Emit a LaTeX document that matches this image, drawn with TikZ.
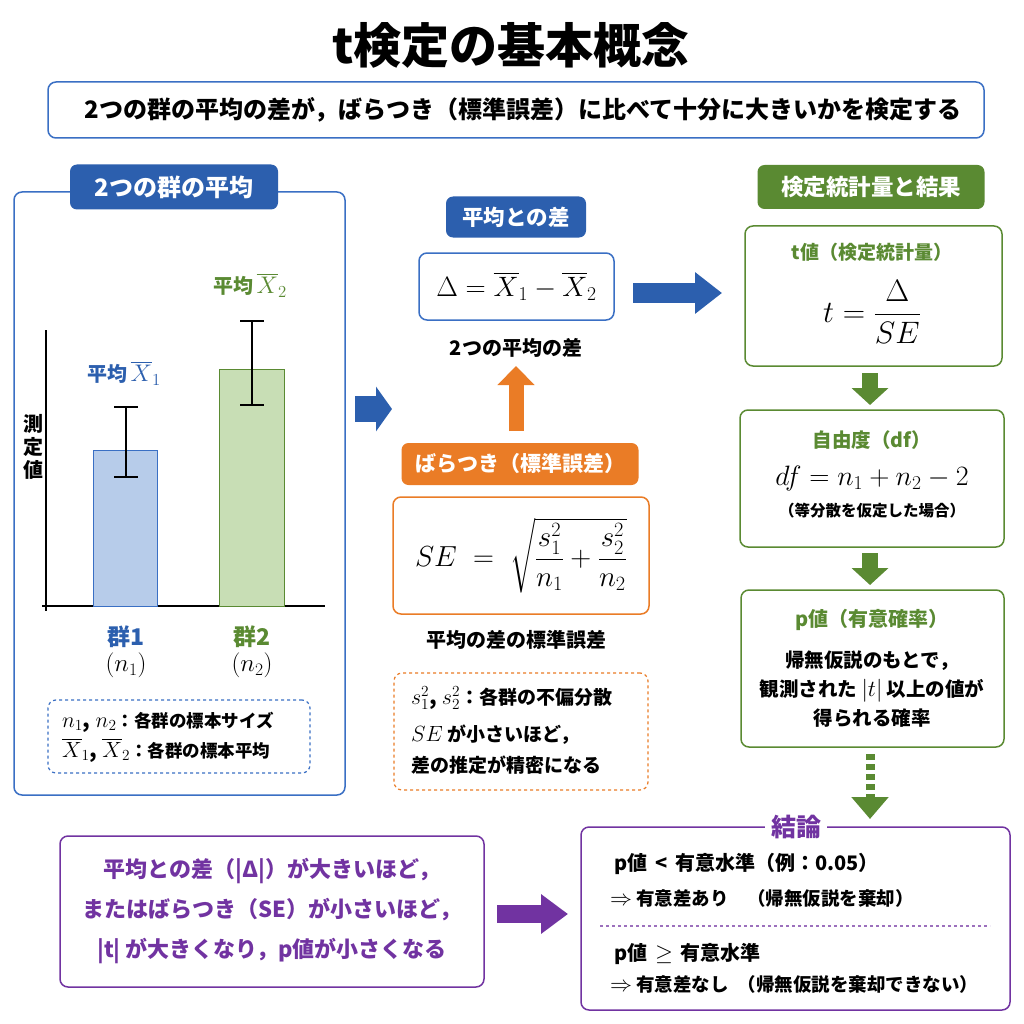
\RequirePackage{fix-cm}
\documentclass[tikz,border=0pt]{standalone}
\usepackage[no-math]{fontspec}
\usepackage{amsmath}
\newfontfamily\jp{Noto Sans CJK JP}
\usetikzlibrary{arrows.meta}
\newcommand\fsz[2]{\fontsize{#1}{#2}\selectfont}
\definecolor{blueM}{HTML}{2C5FAE}
\definecolor{blueB}{HTML}{3A6FC4}
\definecolor{greenM}{HTML}{5A8A32}
\definecolor{orangeM}{HTML}{EA7C26}
\definecolor{purpleM}{HTML}{7133A1}
\definecolor{barB}{HTML}{B7CCEA}
\definecolor{barG}{HTML}{C8DEB5}
\tikzset{
  rbox/.style={draw=#1, line width=1.5pt, rounded corners=8pt, fill=white, inner sep=0pt, anchor=north west},
  tagbox/.style={fill=#1, rounded corners=7pt, text=white, font=\jp\bfseries\fsz{22}{26}, inner sep=0pt},
  blockarrow/.style n args={4}{color=#1, line width=#2, -{Triangle[length=#3,width=#4]}},
  txt/.style={font=\jp\bfseries\fsz{#1}{#1}, inner sep=0pt},
}
\begin{document}
\begin{tikzpicture}[x=1pt,y=-1pt, every node/.style={inner sep=0pt, outer sep=0pt}]
\useasboundingbox[fill=white] (0,0) rectangle (1024,1024);

% title
\node[txt=48] (title) at (511,45) {t検定の基本概念};
\node[rbox=blueB, minimum width=936pt, minimum height=56pt, font=\jp\bfseries\fsz{24}{28}] (sub) at (48,82) {\hspace*{14pt}2つの群の平均の差が，ばらつき（標準誤差）に比べて十分に大きいかを検定する};

% ---------- left panel
\node[rbox=blueB, minimum width=331pt, minimum height=603pt] (lp) at (14,192) {};
\node[tagbox=blueM, minimum width=208pt, minimum height=45pt, font=\jp\bfseries\fsz{24}{26}] (lph) at (174,187) {2つの群の平均};

\node[align=center, font=\jp\bfseries\fsz{20}{23}] (ylab) at (33,447) {測\\定\\値};
\draw[line width=1.6pt] (46,330) -- (46,611);
\draw[line width=1.6pt] (42,606) -- (325,606);

\node[draw=blueB, fill=barB, line width=1pt, anchor=south west, minimum width=64pt, minimum height=156pt] (bar1) at (93,606) {};
\node[draw=greenM, fill=barG, line width=1pt, anchor=south west, minimum width=65pt, minimum height=237pt] (bar2) at (219,606) {};
\draw[line width=1.8pt] (126,407) -- (126,477) (114,407) -- (138,407) (114,477) -- (138,477);
\draw[line width=1.8pt] (252,321) -- (252,405) (240,321) -- (264,321) (240,405) -- (264,405);

\node[txt=20, text=blueM] (m1) at (124,373) {平均\,{\fsz{24}{24}$\overline{X}_1$}};
\node[txt=20, text=greenM] (m2) at (250,285) {平均\,{\fsz{24}{24}$\overline{X}_2$}};
\node[txt=23, text=blueM] (g1) at (126,637) {群1};
\node[font=\fsz{25}{26}] (n1) at (126,665) {$(n_1)$};
\node[txt=23, text=greenM] (g2) at (252,637) {群2};
\node[font=\fsz{25}{26}] (n2) at (252,665) {$(n_2)$};

\node[rbox=blueB, dashed, line width=1.2pt, minimum width=262pt, minimum height=73pt] (ld) at (48,700) {};
\node[txt=17.5, anchor=west] (ld1) at (62,722) {{\fsz{22}{22}$n_1$, $n_2$}：各群の標本サイズ};
\node[txt=17.5, anchor=west] (ld2) at (62,750) {{\fsz{22}{22}$\overline{X}_1$, $\overline{X}_2$}：各群の標本平均};

% ---------- middle
\coordinate (a1s) at (355,409);
\coordinate (a1e) at (392,409);
\draw[blockarrow={blueM}{26pt}{16pt}{44pt}] (a1s) -- (a1e);

\node[tagbox=blueM, minimum width=140pt, minimum height=41pt, font=\jp\bfseries\fsz{21.5}{24}] (dh) at (516,217) {平均との差};
\node[rbox=blueB, minimum width=195pt, minimum height=67pt] (db) at (419,253) {};
\node[font=\fsz{28}{30}] (dm) at (db.center) {$\Delta = \overline{X}_1 - \overline{X}_2$};
\node[txt=20] (dc) at (516,348) {2つの平均の差};

\coordinate (oa1) at (516,431);
\coordinate (oa2) at (516,366);
\draw[blockarrow={orangeM}{15pt}{19pt}{36pt}] (oa1) -- (oa2);

\node[tagbox=orangeM, minimum width=237pt, minimum height=42pt, font=\jp\bfseries\fsz{21}{24}] (sh) at (520,464) {ばらつき（標準誤差）};
\node[rbox=orangeM, minimum width=256pt, minimum height=117pt] (sb) at (393,497) {};
\node[font=\fsz{29}{30}] (sm) at (sb.center) {$SE\;=\;\sqrt{\dfrac{s_1^2}{n_1} + \dfrac{s_2^2}{n_2}}$};
\node[txt=20] (sc) at (516,640) {平均の差の標準誤差};

\node[rbox=orangeM, dashed, line width=1.2pt, minimum width=254pt, minimum height=117pt] (od) at (394,673) {};
\node[txt=19, anchor=west] (od1) at (411,698) {{\fsz{22}{22}$s_1^2$, $s_2^2$}：各群の不偏分散};
\node[txt=19, anchor=west] (od2) at (411,735) {{\fsz{22}{22}$SE$} が小さいほど，};
\node[txt=19, anchor=west] (od3) at (411,765) {差の推定が精密になる};

\coordinate (a2s) at (633,293);
\coordinate (a2e) at (722,293);
\draw[blockarrow={blueM}{20pt}{27pt}{40pt}] (a2s) -- (a2e);

% ---------- right
\node[tagbox=greenM, minimum width=227pt, minimum height=44pt, font=\jp\bfseries\fsz{22.5}{26}] (rh) at (871,187) {検定統計量と結果};

\node[rbox=greenM, minimum width=257pt, minimum height=140pt] (tb) at (745,226) {};
\node[txt=19, text=greenM] (tt) at (872,252) {t値（検定統計量）};
\node[font=\fsz{31}{32}] (tm) at (872,312) {$t = \dfrac{\Delta}{SE}$};

\coordinate (g1s) at (870,373);
\coordinate (g1e) at (870,405);
\draw[blockarrow={greenM}{16pt}{17pt}{36pt}] (g1s) -- (g1e);

\node[rbox=greenM, minimum width=264pt, minimum height=137pt] (fb) at (740,410) {};
\node[txt=19.5, text=greenM] (ft) at (872,440) {自由度（df）};
\node[font=\fsz{28}{30}] (fm) at (872,478) {$df = n_1 + n_2 - 2$};
\node[txt=15.5] (fc) at (872,511) {（等分散を仮定した場合）};

\coordinate (g2s) at (870,553);
\coordinate (g2e) at (870,585);
\draw[blockarrow={greenM}{16pt}{17pt}{36pt}] (g2s) -- (g2e);

\node[rbox=greenM, minimum width=263pt, minimum height=157pt] (pb) at (741,590) {};
\node[txt=20, text=greenM] (pt) at (872,620) {p値（有意確率）};
\node[align=center, font=\jp\bfseries\fsz{19.5}{29}] (pc) at (872,689) {帰無仮説のもとで，\\観測された {\fsz{23}{23}$|t|$} 以上の値が\\得られる確率};

\coordinate (g3s) at (870,754);
\coordinate (g3m) at (870,797);
\coordinate (g3e) at (870,819);
\draw[greenM, line width=9pt, dash pattern=on 6pt off 4pt] (g3s) -- (g3m);
\draw[blockarrow={greenM}{9pt}{22pt}{36pt}] (g3m) -- (g3e);

% ---------- conclusion
\node[rbox=purpleM, minimum width=429pt, minimum height=183pt] (cb) at (581,827) {};
\node[txt=25, text=purpleM, fill=white, inner xsep=6pt, inner ysep=2pt] (ct) at (796,827) {結論};
\node[txt=20, anchor=west] (c1) at (614,864) {p値 \,<\, 有意水準（例：0.05）};
\node[txt=18.5, anchor=west] (c2) at (610,898) {{\fsz{22}{22}$\Rightarrow$} 有意差あり\quad（帰無仮説を棄却）};
\draw[purpleM!70, line width=1.3pt, dashed] (600,926) -- (990,926);
\node[txt=20, anchor=west] (c3) at (614,954) {p値 \,{\fsz{23}{23}$\geq$}\, 有意水準};
\node[txt=18.5, anchor=west] (c4) at (610,984) {{\fsz{22}{22}$\Rightarrow$} 有意差なし\enspace（帰無仮説を棄却できない）};

\node[rbox=purpleM, minimum width=424pt, minimum height=151pt] (pl) at (60,836) {};
\node[align=center, text=purpleM, font=\jp\bfseries\fsz{22}{40}] (plt) at (272,911) {平均との差（|Δ|）が大きいほど，\\またはばらつき（SE）が小さいほど，\\|t| が大きくなり，p値が小さくなる};

\coordinate (a3s) at (497,914);
\coordinate (a3e) at (568,914);
\draw[blockarrow={purpleM}{18pt}{27pt}{38pt}] (a3s) -- (a3e);
\end{tikzpicture}
\end{document}
